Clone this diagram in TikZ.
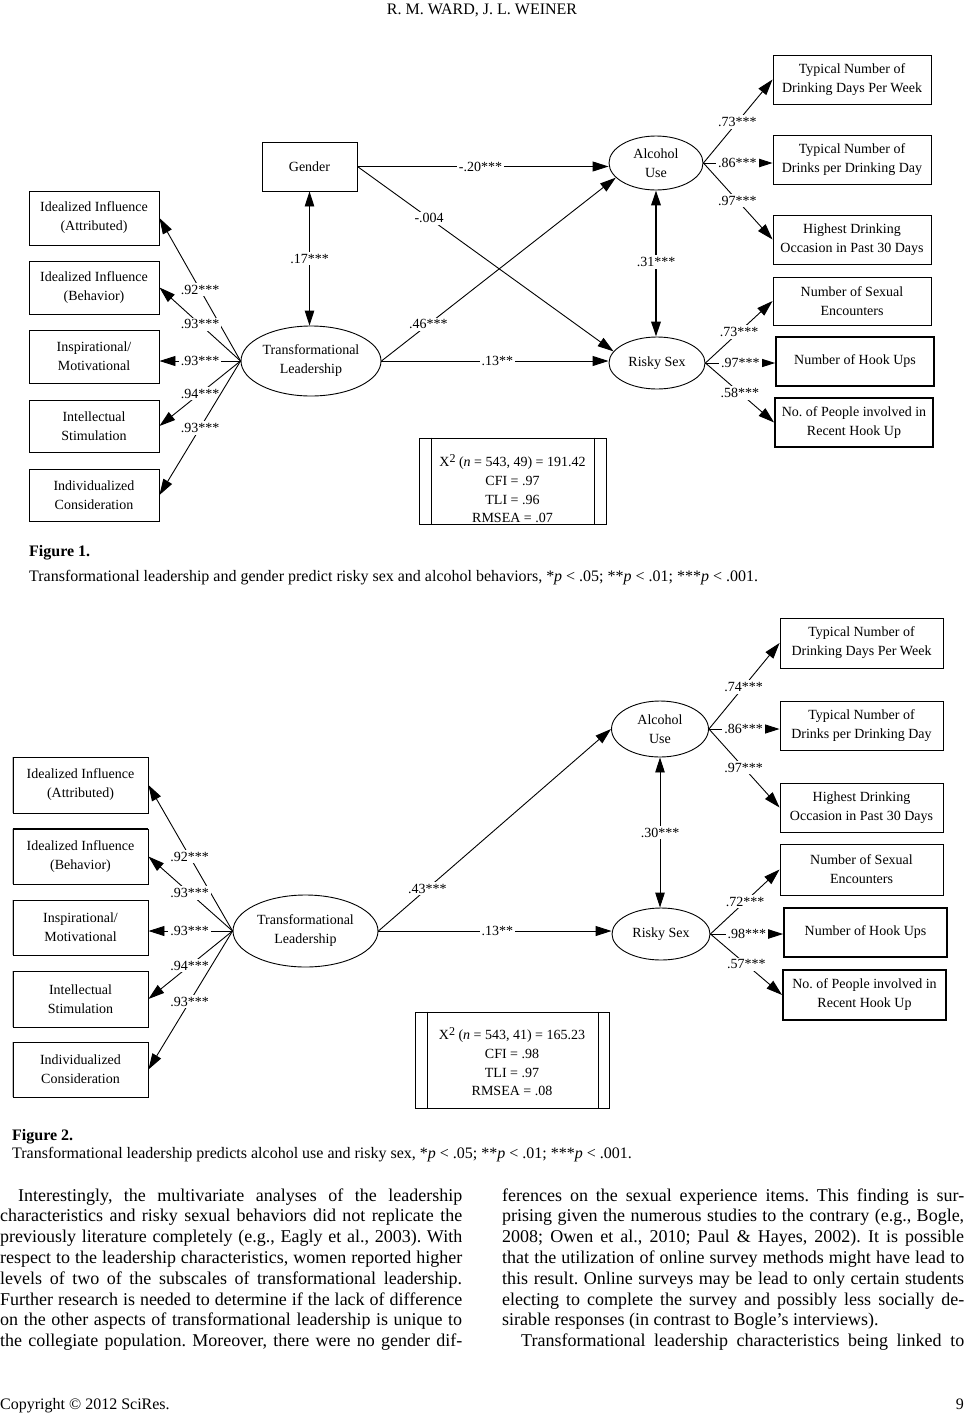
\documentclass[tikz,border=0pt]{standalone}
\usepackage{fontspec}
\setmainfont{Liberation Serif}
\usetikzlibrary{arrows.meta,shapes.geometric}
\newcommand\dfont{\fontsize{14}{19}\selectfont}
\newcommand\chifont{\fontsize{14}{18.7}\selectfont}
\newcommand\bodyfont{\fontsize{18}{21}\selectfont}
\newcommand\capfont{\fontsize{16}{18}\selectfont}
\newcommand\jl[1]{\makebox[462pt][s]{#1}}
\frenchspacing
\begin{document}
\begin{tikzpicture}[x=1pt,y=-1pt,
  every node/.style={inner sep=0pt},
  box/.style={draw,line width=0.9pt,align=center,font=\dfont},
  tbox/.style={box,line width=1.8pt},
  lat/.style={draw,ellipse,line width=0.9pt,align=center,font=\dfont,inner sep=0pt},
  arr/.style={line width=0.9pt,-{Triangle[length=16pt,width=10pt]}},
  darr/.style={line width=0.9pt,{Triangle[length=15pt,width=9.5pt]}-{Triangle[length=15pt,width=9.5pt]}},
  lbl/.style={fill=white,font=\dfont,inner sep=2pt},
  chitext/.style={align=center,font=\chifont},
  bline/.style={anchor=base west,font=\bodyfont},
]
\useasboundingbox (0,0) rectangle (964,1414);

% header
\node[anchor=base,font=\fontsize{16}{18}\selectfont] (hdr) at (482,14) {R. M. WARD, J. L. WEINER};

% ================= FIGURE 1 =================
\node[box,minimum width=130pt,minimum height=54pt] (a1) at (94,218) {Idealized Influence\\(Attributed)};
\node[box,minimum width=130pt,minimum height=53pt] (a2) at (94,287.5) {Idealized Influence\\(Behavior)};
\node[box,minimum width=130pt,minimum height=53pt] (a3) at (94,356.5) {Inspirational/\\Motivational};
\node[box,minimum width=130pt,minimum height=52pt] (a4) at (94,426) {Intellectual\\Stimulation};
\node[box,minimum width=130pt,minimum height=52pt] (a5) at (94,495) {Individualized\\Consideration};

\node[box,minimum width=95pt,minimum height=49pt] (g) at (309.5,166.5) {Gender};
\node[lat,minimum width=140pt,minimum height=70pt] (tl) at (311,361) {Transformational\\Leadership};
\node[lat,minimum width=94pt,minimum height=54pt] (au) at (656,163) {Alcohol\\Use};
\node[lat,minimum width=96pt,minimum height=52pt] (rs) at (657,363) {Risky Sex};

\node[box,minimum width=158pt,minimum height=49pt] (b1) at (852,79.5) {Typical Number of\\Drinking Days Per Week};
\node[box,minimum width=158pt,minimum height=49pt] (b2) at (852,159.5) {Typical Number of\\Drinks per Drinking Day};
\node[box,minimum width=158pt,minimum height=49pt] (b3) at (852,239.5) {Highest Drinking\\Occasion in Past 30 Days};
\node[box,minimum width=158pt,minimum height=48pt] (b4) at (852,301) {Number of Sexual\\Encounters};
\node[tbox,minimum width=158pt,minimum height=49pt] (b5) at (855,361.5) {Number of Hook Ups};
\node[tbox,minimum width=158pt,minimum height=49pt] (b6) at (854,422.5) {No. of People involved in\\Recent Hook Up};

\draw[arr] (tl.west) -- node[lbl,pos=.5] (p1) {.92***} (a1.east);
\draw[arr] (tl.west) -- node[lbl,pos=.5] (p2) {.93***} (a2.east);
\draw[arr] (tl.west) -- node[lbl,pos=.5] (p3) {.93***} (tl.west -| a3.east);
\draw[arr] (tl.west) -- node[lbl,pos=.5] (p4) {.94***} (a4.east);
\draw[arr] (tl.west) -- node[lbl,pos=.5] (p5) {.93***} (a5.east);

\draw[darr] (g.south) -- node[lbl,pos=.5] (p6) {.17***} (g.south |- tl.north);
\draw[arr] (g.east) -- node[lbl,pos=.49] (p7) {-.20***} (g.east -| au.west);
\draw[arr] (g.east) -- node[lbl,pos=.28] (p8) {-.004} (rs.165);
\draw[arr] (tl.east) -- node[lbl,pos=.2] (p9) {.46***} (au.200);
\draw[arr] (tl.east) -- node[lbl,pos=.51] (p10) {.13**} (tl.east -| rs.west);
\draw[darr,line width=1.8pt] (au.south) -- node[lbl,pos=.49] (p11) {.31***} (au.south |- rs.north);

\draw[arr] (au.east) -- node[lbl,pos=.49] (q1) {.73***} (b1.west);
\draw[arr] (au.east) -- node[lbl,pos=.49] (q2) {.86***} (au.east -| b2.west);
\draw[arr] (au.east) -- node[lbl,pos=.49] (q3) {.97***} (b3.west);
\draw[arr] (rs.east) -- node[lbl,pos=.5] (q4) {.73***} (b4.west);
\draw[arr] (rs.east) -- node[lbl,pos=.5] (q5) {.97***} (rs.east -| b5.west);
\draw[arr] (rs.east) -- node[lbl,pos=.5] (q6) {.58***} (b6.west);

\node[draw,line width=0.9pt,minimum width=187pt,minimum height=86pt] (chi1) at (512.5,481) {};
\draw[line width=0.9pt] ([xshift=13pt]chi1.north west) -- ([xshift=13pt]chi1.south west);
\draw[line width=0.9pt] ([xshift=-12pt]chi1.north east) -- ([xshift=-12pt]chi1.south east);
\node[chitext] (chit1) at (512.5,489) {X\raisebox{4pt}{\fontsize{12}{12}\selectfont 2} (\textit{n} = 543, 49) = 191.42\\CFI = .97\\TLI = .96\\RMSEA = .07};

\node[anchor=base west,font=\capfont\bfseries] (f1) at (29,556) {Figure 1.};
\node[anchor=base west,font=\capfont] (c1) at (29,581) {Transformational leadership and gender predict risky sex and alcohol behaviors, *\textit{p} < .05; **\textit{p} < .01; ***\textit{p} < .001.};

% ================= FIGURE 2 =================
\node[box,minimum width=135pt,minimum height=56pt] (d1) at (80.5,785) {Idealized Influence\\(Attributed)};
\node[box,minimum width=135pt,minimum height=55pt] (d2) at (80.5,856.5) {Idealized Influence\\(Behavior)};
\node[box,minimum width=135pt,minimum height=55pt] (d3) at (80.5,927.5) {Inspirational/\\Motivational};
\node[box,minimum width=135pt,minimum height=56pt] (d4) at (80.5,999) {Intellectual\\Stimulation};
\node[box,minimum width=135pt,minimum height=55pt] (d5) at (80.5,1069.5) {Individualized\\Consideration};
\foreach \n in {d1,d2,d3,d4,d5}{\draw[white,line width=1pt] (\n.north west) -- (\n.south west);
  \draw[black!25,line width=0.8pt] (\n.north west) -- (\n.south west);}
\draw[line width=1.8pt] (d2.north west) -- (d2.north east);

\node[lat,minimum width=145pt,minimum height=72pt] (tl2) at (305.5,931) {Transformational\\Leadership};
\node[lat,minimum width=97pt,minimum height=56pt] (au2) at (660,729) {Alcohol\\Use};
\node[lat,minimum width=98pt,minimum height=52pt] (rs2) at (661,934) {Risky Sex};

\node[box,minimum width=163pt,minimum height=50pt] (e1) at (861.5,643) {Typical Number of\\Drinking Days Per Week};
\node[box,minimum width=163pt,minimum height=49pt] (e2) at (861.5,725.5) {Typical Number of\\Drinks per Drinking Day};
\node[box,minimum width=163pt,minimum height=49pt] (e3) at (861.5,807.5) {Highest Drinking\\Occasion in Past 30 Days};
\node[box,minimum width=163pt,minimum height=51pt] (e4) at (861.5,869.5) {Number of Sexual\\Encounters};
\node[tbox,minimum width=163pt,minimum height=49pt] (e5) at (865.5,932.5) {Number of Hook Ups};
\node[tbox,minimum width=163pt,minimum height=50pt] (e6) at (864.5,995) {No. of People involved in\\Recent Hook Up};

\draw[arr] (tl2.west) -- node[lbl,pos=.51] (r1) {.92***} (d1.east);
\draw[arr] (tl2.west) -- node[lbl,pos=.51] (r2) {.93***} (d2.east);
\draw[arr] (tl2.west) -- node[lbl,pos=.51] (r3) {.93***} (tl2.west -| d3.east);
\draw[arr] (tl2.west) -- node[lbl,pos=.51] (r4) {.94***} (d4.east);
\draw[arr] (tl2.west) -- node[lbl,pos=.51] (r5) {.93***} (d5.east);

\draw[arr] (tl2.east) -- node[lbl,pos=.21] (r6) {.43***} (au2.west);
\draw[arr] (tl2.east) -- node[lbl,pos=.51] (r7) {.13**} (tl2.east -| rs2.west);
\draw[darr] (au2.south) -- node[lbl,pos=.5] (r8) {.30***} (au2.south |- rs2.north);

\draw[arr] (au2.east) -- node[lbl,pos=.49] (s1) {.74***} (e1.west);
\draw[arr] (au2.east) -- node[lbl,pos=.49] (s2) {.86***} (au2.east -| e2.west);
\draw[arr] (au2.east) -- node[lbl,pos=.49] (s3) {.97***} (e3.west);
\draw[arr] (rs2.east) -- node[lbl,pos=.5] (s4) {.72***} (e4.west);
\draw[arr] (rs2.east) -- node[lbl,pos=.5] (s5) {.98***} (rs2.east -| e5.west);
\draw[arr] (rs2.east) -- node[lbl,pos=.5] (s6) {.57***} (e6.west);

\node[draw,line width=0.9pt,minimum width=194pt,minimum height=96pt] (chi2) at (512,1060) {};
\draw[line width=0.9pt] ([xshift=13pt]chi2.north west) -- ([xshift=13pt]chi2.south west);
\draw[line width=0.9pt] ([xshift=-11pt]chi2.north east) -- ([xshift=-11pt]chi2.south east);
\node[chitext] (chit2) at (512,1062) {X\raisebox{4pt}{\fontsize{12}{12}\selectfont 2} (\textit{n} = 543, 41) = 165.23\\CFI = .98\\TLI = .97\\RMSEA = .08};

\node[anchor=base west,font=\capfont\bfseries] (f2) at (12,1140) {Figure 2.};
\node[anchor=base west,font=\capfont] (c2) at (12,1158) {Transformational leadership predicts alcohol use and risky sex, *\textit{p} < .05; **\textit{p} < .01; ***\textit{p} < .001.};

% ================= BODY TEXT =================
\node[bline] (L1) at (0,1201) {\jl{\hspace*{18pt}Interestingly, the multivariate analyses of the leadership}};
\node[bline] (L2) at (0,1221.8) {\jl{characteristics and risky sexual behaviors did not replicate the}};
\node[bline] (L3) at (0,1242.6) {\jl{previously literature completely (e.g., Eagly et al., 2003). With}};
\node[bline] (L4) at (0,1263.4) {\jl{respect to the leadership characteristics, women reported higher}};
\node[bline] (L5) at (0,1284.2) {\jl{levels of two of the subscales of transformational leadership.}};
\node[bline] (L6) at (0,1305) {\jl{Further research is needed to determine if the lack of difference}};
\node[bline] (L7) at (0,1325.8) {\jl{on the other aspects of transformational leadership is unique to}};
\node[bline] (L8) at (0,1346.6) {\jl{the collegiate population. Moreover, there were no gender dif-}};

\node[bline] (R1) at (502,1201) {\jl{ferences on the sexual experience items. This finding is sur-}};
\node[bline] (R2) at (502,1221.8) {\jl{prising given the numerous studies to the contrary (e.g., Bogle,}};
\node[bline] (R3) at (502,1242.6) {\jl{2008; Owen et al., 2010; Paul \& Hayes, 2002). It is possible}};
\node[bline] (R4) at (502,1263.4) {\jl{that the utilization of online survey methods might have lead to}};
\node[bline] (R5) at (502,1284.2) {\jl{this result. Online surveys may be lead to only certain students}};
\node[bline] (R6) at (502,1305) {\jl{electing to complete the survey and possibly less socially de-}};
\node[bline] (R7) at (502,1325.8) {sirable responses (in contrast to Bogle’s interviews).};
\node[bline] (R8) at (502,1346.6) {\jl{\hspace*{19pt}Transformational leadership characteristics being linked to}};

\node[anchor=base west,font=\fontsize{16}{18}\selectfont] (cp) at (0,1409) {Copyright © 2012 SciRes.};
\node[anchor=base east,font=\fontsize{16}{18}\selectfont] (pg) at (964,1409) {9};
\end{tikzpicture}
\end{document}
